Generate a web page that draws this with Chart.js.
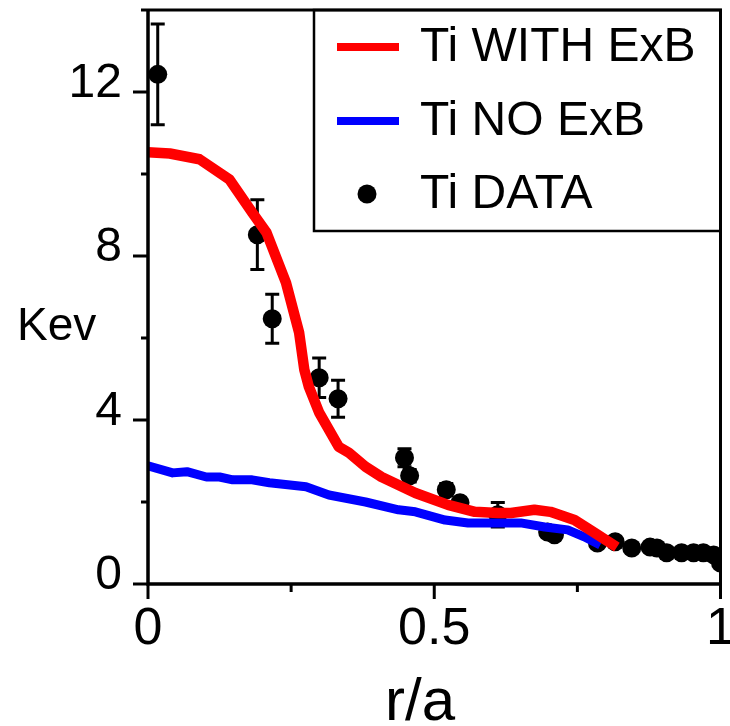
<!DOCTYPE html>
<html><head><meta charset="utf-8">
<script src="https://cdn.jsdelivr.net/npm/chart.js@4"></script>
<style>html,body{margin:0;padding:0;background:#fff}#wrap{width:730px;height:726px}</style>
</head><body><div id="wrap"><canvas id="c" width="730" height="726"></canvas></div>
<script>
const seriesNames = ['Ti WITH ExB', 'Ti NO ExB', 'Ti DATA'];
const xTitle = 'r/a';
const yTitle = 'Kev';
const xTickLabels = ['0', '0.5', '1'];
const yTickLabels = ['0', '4', '8', '12'];

const withR  = [0,0.038,0.09,0.142,0.182,0.207,0.241,0.264,0.273,0.281,0.299,0.333,0.351,0.380,0.408,0.467,0.524,0.571,0.611,0.634,0.675,0.703,0.745,0.780,0.819];
const withTi = [10.53,10.50,10.36,9.87,9.06,8.57,7.35,6.13,5.23,4.81,4.18,3.35,3.20,2.86,2.61,2.22,1.93,1.76,1.73,1.73,1.81,1.76,1.56,1.25,0.90];

const noR  = [0,0.043,0.068,0.102,0.125,0.148,0.182,0.212,0.276,0.316,0.380,0.4375,0.467,0.519,0.559,0.611,0.651,0.693,0.733,0.762,0.790];
const noTi = [2.88,2.71,2.74,2.61,2.61,2.54,2.54,2.47,2.37,2.17,2.00,1.81,1.76,1.56,1.49,1.49,1.49,1.39,1.32,1.15,0.95];

const dataR   = [0.017,0.191,0.217,0.299,0.332,0.448,0.457,0.521,0.545,0.611,0.698,0.710,0.785,0.816,0.845,0.877,0.889,0.906,0.932,0.953,0.970,0.988,1.0];
const dataTi  = [12.43,8.52,6.47,5.03,4.52,3.08,2.64,2.30,1.98,1.69,1.27,1.20,1.00,1.03,0.88,0.90,0.88,0.76,0.76,0.76,0.76,0.71,0.51];
const dataErr = [1.23,0.85,0.60,0.48,0.45,0.22,0.15,0.15,0.10,0.30,0.10,0.10,0,0,0,0,0,0,0,0,0,0,0];

const FONT = 'Liberation Sans, Arial, sans-serif';
const pts = (xs, ys) => xs.map((v, i) => ({x: v, y: ys[i]}));

const decor = {
  id: 'decor',
  beforeDatasetDraw(chart, args) {
    if (args.index !== 2) return;
    const ctx = chart.ctx, x = chart.scales.x, y = chart.scales.y;
    ctx.save();
    ctx.strokeStyle = '#000'; ctx.lineWidth = 3;
    dataR.forEach((r, i) => {
      const e = dataErr[i]; if (!e) return;
      const px = x.getPixelForValue(r);
      const y1 = y.getPixelForValue(dataTi[i] + e), y2 = y.getPixelForValue(dataTi[i] - e);
      ctx.beginPath();
      ctx.moveTo(px, y1); ctx.lineTo(px, y2);
      ctx.moveTo(px - 7, y1); ctx.lineTo(px + 7, y1);
      ctx.moveTo(px - 7, y2); ctx.lineTo(px + 7, y2);
      ctx.stroke();
    });
    ctx.restore();
  },
  afterDraw(chart) {
    const ctx = chart.ctx, x = chart.scales.x, y = chart.scales.y, a = chart.chartArea;
    ctx.save();
    ctx.strokeStyle = '#000';
    ctx.lineWidth = 3;
    ctx.beginPath();
    ctx.moveTo(a.left, a.top); ctx.lineTo(a.right, a.top); ctx.lineTo(a.right, a.bottom);
    ctx.stroke();
    ctx.lineWidth = 3.5;
    ctx.beginPath();
    ctx.moveTo(a.left, a.top); ctx.lineTo(a.left, a.bottom); ctx.lineTo(a.right, a.bottom);
    ctx.stroke();
    ctx.lineWidth = 3;
    y.ticks.forEach(t => {
      const py = y.getPixelForValue(t.value);
      const len = yTickLabels.includes(String(t.value)) ? 15 : 7;
      ctx.beginPath(); ctx.moveTo(a.left - len, py); ctx.lineTo(a.left, py); ctx.stroke();
    });
    x.ticks.forEach(t => {
      const px = x.getPixelForValue(t.value);
      const len = xTickLabels.includes(String(t.value)) ? 15 : 8;
      ctx.beginPath(); ctx.moveTo(px, a.bottom); ctx.lineTo(px, a.bottom + len); ctx.stroke();
    });
    ctx.fillStyle = '#000';
    ctx.textBaseline = 'alphabetic';
    ctx.font = '46px ' + FONT;
    ctx.textAlign = 'left';
    ctx.fillText(yTitle, 17, 340);
    ctx.font = '60px ' + FONT;
    ctx.textAlign = 'center';
    ctx.fillText(xTitle, 420, 720);
    const lx = 314, ly = a.top;
    ctx.lineWidth = 2.5;
    ctx.strokeRect(lx, ly, a.right - lx, 221);
    const ds = chart.data.datasets;
    const rows = [47, 121, 194];
    ctx.font = '48px ' + FONT;
    ctx.textAlign = 'left';
    ds.forEach((d, i) => {
      const yy = rows[i];
      if (i < 2) {
        ctx.strokeStyle = d.borderColor; ctx.lineWidth = 8;
        ctx.beginPath(); ctx.moveTo(337, yy); ctx.lineTo(399, yy); ctx.stroke();
      } else {
        ctx.fillStyle = d.backgroundColor;
        ctx.beginPath(); ctx.arc(367, yy, 9.5, 0, Math.PI * 2); ctx.fill();
      }
      ctx.fillStyle = '#000';
      ctx.fillText(d.label, 420, yy + 14);
    });
    ctx.restore();
  }
};

const noPad = s => { s.paddingTop = 0; s.paddingBottom = 0; s.paddingLeft = 0; s.paddingRight = 0; };

new Chart(document.getElementById('c'), {
  type: 'scatter',
  data: {
    datasets: [
      { label: seriesNames[0], data: pts(withR, withTi), showLine: true, borderColor: '#ff0000', backgroundColor: '#ff0000', borderWidth: 10.5, pointRadius: 0, borderJoinStyle: 'round' },
      { label: seriesNames[1], data: pts(noR, noTi), showLine: true, borderColor: '#0000ff', backgroundColor: '#0000ff', borderWidth: 9, pointRadius: 0, borderJoinStyle: 'round' },
      { label: seriesNames[2], data: pts(dataR, dataTi), showLine: false, borderColor: '#000', backgroundColor: '#000', pointRadius: 9.5, borderWidth: 0 }
    ]
  },
  options: {
    responsive: false, animation: false, events: [], devicePixelRatio: 1,
    layout: { padding: { top: 10, right: 6, left: 0, bottom: 0 } },
    plugins: { legend: { display: false }, tooltip: { enabled: false } },
    scales: {
      x: {
        type: 'linear', min: 0, max: 1,
        grid: { display: false, drawTicks: false }, border: { display: false },
        ticks: { stepSize: 0.25, autoSkip: false, maxRotation: 0, padding: 14, color: '#000',
          font: { size: 52, family: FONT },
          callback: v => xTickLabels.includes(String(v)) ? String(v) : '' },
        afterFit: s => { s.height = 142; noPad(s); }
      },
      y: {
        type: 'linear', min: 0, max: 14,
        grid: { display: false, drawTicks: false }, border: { display: false },
        ticks: { stepSize: 2, autoSkip: false, padding: 26, labelOffset: -8, color: '#000',
          font: { size: 48, family: FONT },
          callback: v => yTickLabels.includes(String(v)) ? String(v) : '' },
        afterFit: s => { s.width = 148; noPad(s); }
      }
    }
  },
  plugins: [decor]
});
</script></body></html>
